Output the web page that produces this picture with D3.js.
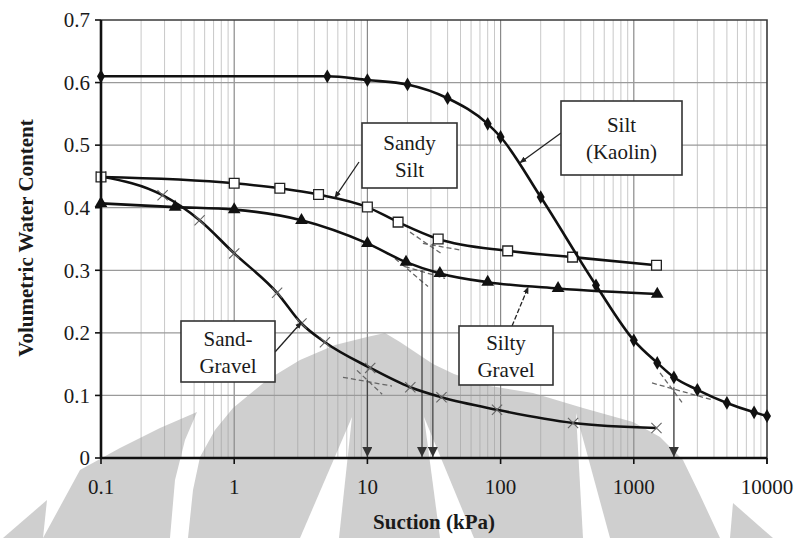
<!DOCTYPE html>
<html>
<head>
<title>Soil-Water Characteristic Curves</title>
<script src="https://d3js.org/d3.v7.min.js"></script>
<style>
  body { margin: 0; background: #fff; }
  svg { display: block; }
  text { font-family: "Liberation Serif", "DejaVu Serif", serif; fill: #1a1a1a; }
</style>
</head>
<body>
<script>
// axis ticks
const xTicks = [0.1, 1, 10, 100, 1000, 10000];
const xTickLabels = ["0.1", "1", "10", "100", "1000", "10000"];
const yTicks = [0, 0.1, 0.2, 0.3, 0.4, 0.5, 0.6, 0.7];
const yTickLabels = ["0", "0.1", "0.2", "0.3", "0.4", "0.5", "0.6", "0.7"];

// Silt (Kaolin) - filled diamonds
const kaolinSuction = [0.1, 5, 10, 20, 40, 80, 100, 200, 520, 1000, 1500, 2000, 3000, 5000, 8000, 10000];
const kaolinTheta = [0.61, 0.61, 0.604, 0.597, 0.575, 0.534, 0.513, 0.417, 0.276, 0.188, 0.152, 0.129, 0.109, 0.088, 0.073, 0.067];

// Sandy Silt - open squares
const sandySiltSuction = [0.1, 1, 2.2, 4.3, 10, 17, 34, 113, 347, 1480];
const sandySiltTheta = [0.449, 0.439, 0.431, 0.421, 0.401, 0.377, 0.350, 0.331, 0.321, 0.308];

// Silty Gravel - filled triangles
const siltyGravelSuction = [0.1, 0.36, 1, 3.2, 10, 19.5, 35, 80, 270, 1500];
const siltyGravelTheta = [0.407, 0.401, 0.397, 0.38, 0.343, 0.313, 0.295, 0.281, 0.271, 0.262];

// Sand-Gravel - crosses
const sandGravelSuction = [0.1, 0.29, 0.55, 1, 2.1, 3.2, 4.8, 10.5, 21, 36, 94, 350, 1480];
const sandGravelTheta = [0.45, 0.42, 0.38, 0.327, 0.264, 0.215, 0.185, 0.144, 0.113, 0.097, 0.077, 0.056, 0.048];

// air-entry / residual construction: drop lines to the suction axis
const dropSuction = [10, 25.7, 31, 2000];
const dropTheta = [0.125, 0.30, 0.343, 0.113];

// dashed tangent lines [suction1, theta1, suction2, theta2]
const tangents = [
    [6.56, 0.129, 15.3, 0.115], [8.35, 0.140, 12.9, 0.102],
    [1370, 0.120, 3860, 0.093], [1574, 0.136, 2300, 0.089],
    [26.1, 0.343, 51, 0.332], [20.9, 0.361, 36.3, 0.326],
    [19.1, 0.306, 38.3, 0.287], [16.1, 0.319, 28.5, 0.274]
];

// callout labels and where their arrows point (suction, theta)
const noteLines = [["Sandy", "Silt"], ["Silt", "(Kaolin)"], ["Sand-", "Gravel"], ["Silty", "Gravel"]];
const noteTargetSuction = [5.7, 140, 3.2, 161];
const noteTargetTheta = [0.416, 0.472, 0.217, 0.273];

const width = 800, height = 538;
const margin = {top: 20, right: 33, bottom: 80, left: 101};

const svg = d3.select("body").append("svg")
    .attr("width", width)
    .attr("height", height);

// faint watermark in the background
const wm = svg.append("g");
const wmGray = [
    [[3,538],[47,500],[43,538]],
    [[43,538],[80,470],[120,448],[160,428],[197,412],[185,440],[175,480],[170,538]],
    [[188,538],[193,490],[200,457],[215,430],[233,408],[267,380],[300,360],[335,345],[367,337],[385,333],
     [400,342],[433,364],[454,374],[490,386],[533,393],[583,408],[633,422],[660,437],[683,460],[700,495],[720,538]],
    [[730,538],[733,503],[773,538]]
];
const wmWhite = [
    [[300,538],[352,417],[339,538]],
    [[440,538],[424,417],[474,538]],
    [[583,538],[576,413],[610,538]]
];
const poly = d3.line().curve(d3.curveLinearClosed);
wm.selectAll(".wg").data(wmGray).enter().append("path")
    .attr("d", poly).attr("fill", "#cfcfcf");
wm.selectAll(".ww").data(wmWhite).enter().append("path")
    .attr("d", poly).attr("fill", "#fff");

const x = d3.scaleLog().domain([0.1, 10000]).range([margin.left, width - margin.right]);
const y = d3.scaleLinear().domain([0, 0.7]).range([height - margin.bottom, margin.top]);

const x0 = x.range()[0], x1 = x.range()[1];
const y0 = y.range()[0], y1 = y.range()[1];

// gridlines
const minor = [];
for (let d = 0.1; d < 10000; d *= 10) {
    for (let k = 2; k <= 9; k++) minor.push(+(d * k).toPrecision(3));
}
svg.append("g").selectAll("line").data(minor).enter().append("line")
    .attr("x1", d => x(d)).attr("x2", d => x(d))
    .attr("y1", y1).attr("y2", y0)
    .attr("stroke", "#9a9a9a").attr("stroke-opacity", 0.55).attr("stroke-width", 1);
svg.append("g").selectAll("line").data(xTicks.slice(1, -1)).enter().append("line")
    .attr("x1", d => x(d)).attr("x2", d => x(d))
    .attr("y1", y1).attr("y2", y0)
    .attr("stroke", "#8a8a8a").attr("stroke-width", 1.2);
svg.append("g").selectAll("line").data(yTicks.slice(1, -1)).enter().append("line")
    .attr("x1", x0).attr("x2", x1)
    .attr("y1", d => y(d)).attr("y2", d => y(d))
    .attr("stroke", "#9a9a9a").attr("stroke-width", 1.2);

// frame: top and right borders
svg.append("path")
    .attr("d", `M${x0},${y1}H${x1}V${y0 + 6}`)
    .attr("fill", "none").attr("stroke", "#3a3a3a").attr("stroke-width", 1.6);

// arrowhead markers
const defs = svg.append("defs");
defs.append("marker").attr("id", "head")
    .attr("viewBox", "0 0 10 10").attr("refX", 9).attr("refY", 5)
    .attr("markerWidth", 7).attr("markerHeight", 7).attr("markerUnits", "userSpaceOnUse")
    .attr("orient", "auto")
    .append("path").attr("d", "M0,1L10,5L0,9z").attr("fill", "#222");
defs.append("marker").attr("id", "drop")
    .attr("viewBox", "0 0 10 10").attr("refX", 10).attr("refY", 5)
    .attr("markerWidth", 10).attr("markerHeight", 10).attr("markerUnits", "userSpaceOnUse")
    .attr("orient", "auto")
    .append("path").attr("d", "M0,0L10,5L0,10z").attr("fill", "#333");

// tangent construction lines
svg.append("g").selectAll("line").data(tangents).enter().append("line")
    .attr("x1", d => x(d[0])).attr("y1", d => y(d[1]))
    .attr("x2", d => x(d[2])).attr("y2", d => y(d[3]))
    .attr("stroke", "#666").attr("stroke-width", 1.3)
    .attr("stroke-dasharray", "5,3");

// drop lines to the axis
svg.append("g").selectAll("line").data(dropSuction).enter().append("line")
    .attr("x1", d => x(d)).attr("x2", d => x(d))
    .attr("y1", (d, i) => y(dropTheta[i])).attr("y2", y0 - 1)
    .attr("stroke", "#444").attr("stroke-width", 1.3)
    .attr("marker-end", "url(#drop)");

// the curves
const line = d3.line()
    .x(d => x(d[0])).y(d => y(d[1]))
    .curve(d3.curveMonotoneX);

const series = [
    {s: sandGravelSuction, t: sandGravelTheta, sym: "cross"},
    {s: siltyGravelSuction, t: siltyGravelTheta, sym: "triangle"},
    {s: sandySiltSuction, t: sandySiltTheta, sym: "square"},
    {s: kaolinSuction, t: kaolinTheta, sym: "diamond"}
];

series.forEach(function(sr) {
    const pts = sr.s.map((v, i) => [v, sr.t[i]]);
    svg.append("path")
        .datum(pts)
        .attr("d", line)
        .attr("fill", "none")
        .attr("stroke", "#111")
        .attr("stroke-width", 2.6);

    const g = svg.append("g");
    const marks = g.selectAll("path").data(pts).enter().append("path")
        .attr("transform", d => `translate(${x(d[0])},${y(d[1])})`);
    if (sr.sym === "diamond") {
        marks.attr("d", d3.symbol(d3.symbolDiamond, 55)).attr("fill", "#111");
    } else if (sr.sym === "square") {
        marks.attr("d", d3.symbol(d3.symbolSquare, 95))
            .attr("fill", "#fff").attr("stroke", "#222").attr("stroke-width", 1.3);
    } else if (sr.sym === "triangle") {
        marks.attr("d", d3.symbol(d3.symbolTriangle, 70)).attr("fill", "#111");
    } else {
        marks.attr("d", d3.symbol(d3.symbolTimes, 70))
            .attr("fill", "none").attr("stroke", "#666").attr("stroke-width", 1.1);
    }
});

// axes
svg.append("line")
    .attr("x1", x0).attr("x2", x0).attr("y1", y1).attr("y2", y0 + 1)
    .attr("stroke", "#111").attr("stroke-width", 2.6);
svg.append("line")
    .attr("x1", x0 - 1).attr("x2", x1).attr("y1", y0).attr("y2", y0)
    .attr("stroke", "#111").attr("stroke-width", 2.6);

svg.append("g").selectAll("line").data(yTicks).enter().append("line")
    .attr("x1", x0 - 6).attr("x2", x0)
    .attr("y1", d => y(d)).attr("y2", d => y(d))
    .attr("stroke", "#111").attr("stroke-width", 1.6);
svg.append("g").selectAll("line").data(xTicks).enter().append("line")
    .attr("x1", d => x(d)).attr("x2", d => x(d))
    .attr("y1", y0).attr("y2", y0 + 6)
    .attr("stroke", "#111").attr("stroke-width", 1.6);

svg.append("g").selectAll("text").data(yTicks).enter().append("text")
    .attr("x", x0 - 11).attr("y", d => y(d))
    .attr("dy", "0.35em")
    .attr("text-anchor", "end")
    .style("font-size", "21px")
    .text((d, i) => yTickLabels[i]);
svg.append("g").selectAll("text").data(xTicks).enter().append("text")
    .attr("x", d => x(d)).attr("y", y0 + 36)
    .attr("text-anchor", "middle")
    .style("font-size", "21px")
    .text((d, i) => xTickLabels[i]);

// axis titles
svg.append("text")
    .attr("x", 434).attr("y", 529)
    .attr("text-anchor", "middle")
    .style("font-size", "21px").style("font-weight", "bold")
    .text("Suction (kPa)");
svg.append("text")
    .attr("transform", "translate(33,238) rotate(-90)")
    .attr("text-anchor", "middle")
    .style("font-size", "21px").style("font-weight", "bold")
    .text("Volumetric Water Content");

// callout boxes
const boxes = [
    {x: 362, y: 123, w: 95, h: 65, ax: 359, ay: 162},
    {x: 561, y: 101, w: 121, h: 74, ax: 561, ay: 133},
    {x: 181, y: 321, w: 94, h: 61, ax: 275, ay: 352},
    {x: 459, y: 326, w: 94, h: 59, ax: 512, ay: 326}
];
boxes.forEach(function(b, i) {
    svg.append("line")
        .attr("x1", b.ax).attr("y1", b.ay)
        .attr("x2", x(noteTargetSuction[i])).attr("y2", y(noteTargetTheta[i]))
        .attr("stroke", "#222").attr("stroke-width", 1.3)
        .attr("stroke-dasharray", i === 3 ? "5,2" : null)
        .attr("marker-end", "url(#head)");
    svg.append("rect")
        .attr("x", b.x).attr("y", b.y).attr("width", b.w).attr("height", b.h)
        .attr("fill", "#fff").attr("stroke", "#333").attr("stroke-width", 1.6);
    const t = svg.append("text")
        .attr("text-anchor", "middle")
        .style("font-size", "21px");
    noteLines[i].forEach(function(s, j) {
        t.append("tspan")
            .attr("x", b.x + b.w / 2)
            .attr("y", b.y + b.h / 2 - 6 + j * 27)
            .text(s);
    });
});
</script>
</body>
</html>
